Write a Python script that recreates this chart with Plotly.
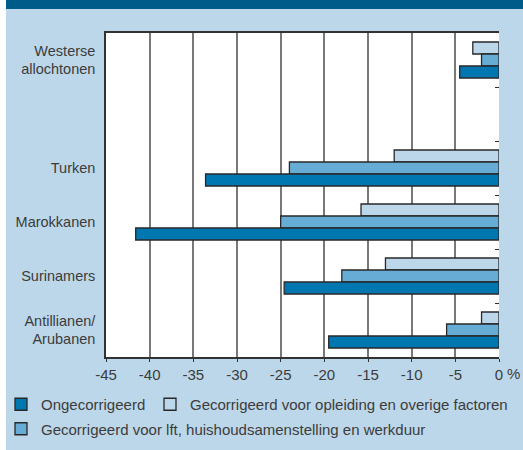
import plotly.graph_objects as go

categories = ["Westerse<br>allochtonen", " ", "Turken", "Marokkanen", "Surinamers", "Antillianen/<br>Arubanen"]
ongecorrigeerd = [-4.5, None, -33.6, -41.6, -24.6, -19.5]
gecorr_opleiding = [-3.0, None, -12.0, -15.8, -13.0, -2.0]
gecorr_lft = [-2.0, None, -24.0, -25.0, -18.0, -6.0]
x_tickvals = [-45, -40, -35, -30, -25, -20, -15, -10, -5, 0]
x_ticktext = ["-45", "-40", "-35", "-30", "-25", "-20", "-15", "-10", "-5", "0"]

DARK = "rgb(0,119,176)"
MID = "rgb(102,172,212)"
LIGHT = "rgb(188,215,233)"
BG = "rgb(188,215,233)"
BAND = "rgb(0,91,138)"
EDGE = "rgb(40,40,40)"
FONT = "Liberation Sans"
TXT = "rgb(60,60,60)"

W, H = 523, 450
L, R, T, B = 106, 24, 33, 93
pw, ph = W - L - R, H - T - B


def px_x(p):
    return (p - L) / pw


def px_y(p):
    return 1 - (p - T) / ph


fig = go.Figure()
fig.add_trace(go.Bar(y=categories, x=gecorr_opleiding, orientation="h",
                     name="Gecorrigeerd voor opleiding en overige factoren",
                     marker=dict(color=LIGHT, line=dict(color=EDGE, width=1.3)),
                     legend="legend2"))
fig.add_trace(go.Bar(y=categories, x=gecorr_lft, orientation="h",
                     name="Gecorrigeerd voor lft, huishoudsamenstelling en werkduur",
                     marker=dict(color=MID, line=dict(color=EDGE, width=1.3)),
                     legend="legend", legendgroup="b", legendrank=2))
fig.add_trace(go.Bar(y=categories, x=ongecorrigeerd, orientation="h", name="Ongecorrigeerd",
                     marker=dict(color=DARK, line=dict(color=EDGE, width=1.3)),
                     legend="legend", legendgroup="a", legendrank=1))
fig.add_trace(go.Scatter(y=categories, x=[None] * len(categories), yaxis="y2", showlegend=False,
                         hoverinfo="skip", mode="markers"))

legend_top = 388
fig.update_layout(
    width=W, height=H,
    margin=dict(l=L, r=R, t=T, b=B, autoexpand=False),
    paper_bgcolor=BG, plot_bgcolor="white",
    barmode="group", bargap=1/3, bargroupgap=0,
    font=dict(family=FONT, size=14, color=TXT),
    xaxis=dict(range=[-45, 0], tickvals=x_tickvals, ticktext=x_ticktext,
               showgrid=True, gridcolor="rgb(120,120,120)", gridwidth=1.5,
               showline=True, linecolor="rgb(50,50,50)", linewidth=1.5, mirror=True,
               ticks="outside", ticklen=3, tickcolor="rgb(50,50,50)", zeroline=False,
               tickfont=dict(size=15, color=TXT)),
    yaxis=dict(categoryorder="array", categoryarray=categories, autorange="reversed",
               showgrid=False, showline=True, linecolor="rgb(50,50,50)", linewidth=1.5,
               ticks="", ticklabelstandoff=6, tickfont=dict(size=14.5, color=TXT)),
    yaxis2=dict(overlaying="y", side="right", matches="y", showticklabels=False,
                showgrid=False, ticks="inside", tickson="boundaries", ticklen=4,
                tickcolor="rgb(50,50,50)", showline=False),
    legend=dict(orientation="v", x=px_x(1), y=px_y(legend_top), xanchor="left", yanchor="top",
                font=dict(size=15, color=TXT), bgcolor="rgba(0,0,0,0)",
                traceorder="grouped", tracegroupgap=2),
    legend2=dict(orientation="v", x=px_x(150), y=px_y(legend_top), xanchor="left", yanchor="top",
                 font=dict(size=15, color=TXT), bgcolor="rgba(0,0,0,0)"),
    shapes=[
        dict(type="rect", xref="paper", yref="paper", x0=px_x(-2), x1=px_x(6),
             y0=px_y(H + 2), y1=px_y(-2), fillcolor="white", line_width=0, layer="above"),
        dict(type="rect", xref="paper", yref="paper", x0=px_x(6), x1=px_x(W + 2),
             y0=px_y(9), y1=px_y(-2), fillcolor=BAND, line_width=0, layer="above"),
    ],
    annotations=[
        dict(text="%", xref="paper", yref="paper", x=px_x(513), y=px_y(373), xanchor="center",
             yanchor="middle", showarrow=False, font=dict(size=15, color=TXT)),
    ],
)

fig.write_html("out.html",
               config={"displayModeBar": False},
               post_script="document.body.style.margin='0';document.body.style.padding='0';"
                           "document.body.style.background='rgb(188,215,233)';"
                           "document.documentElement.style.overflow='hidden';")
